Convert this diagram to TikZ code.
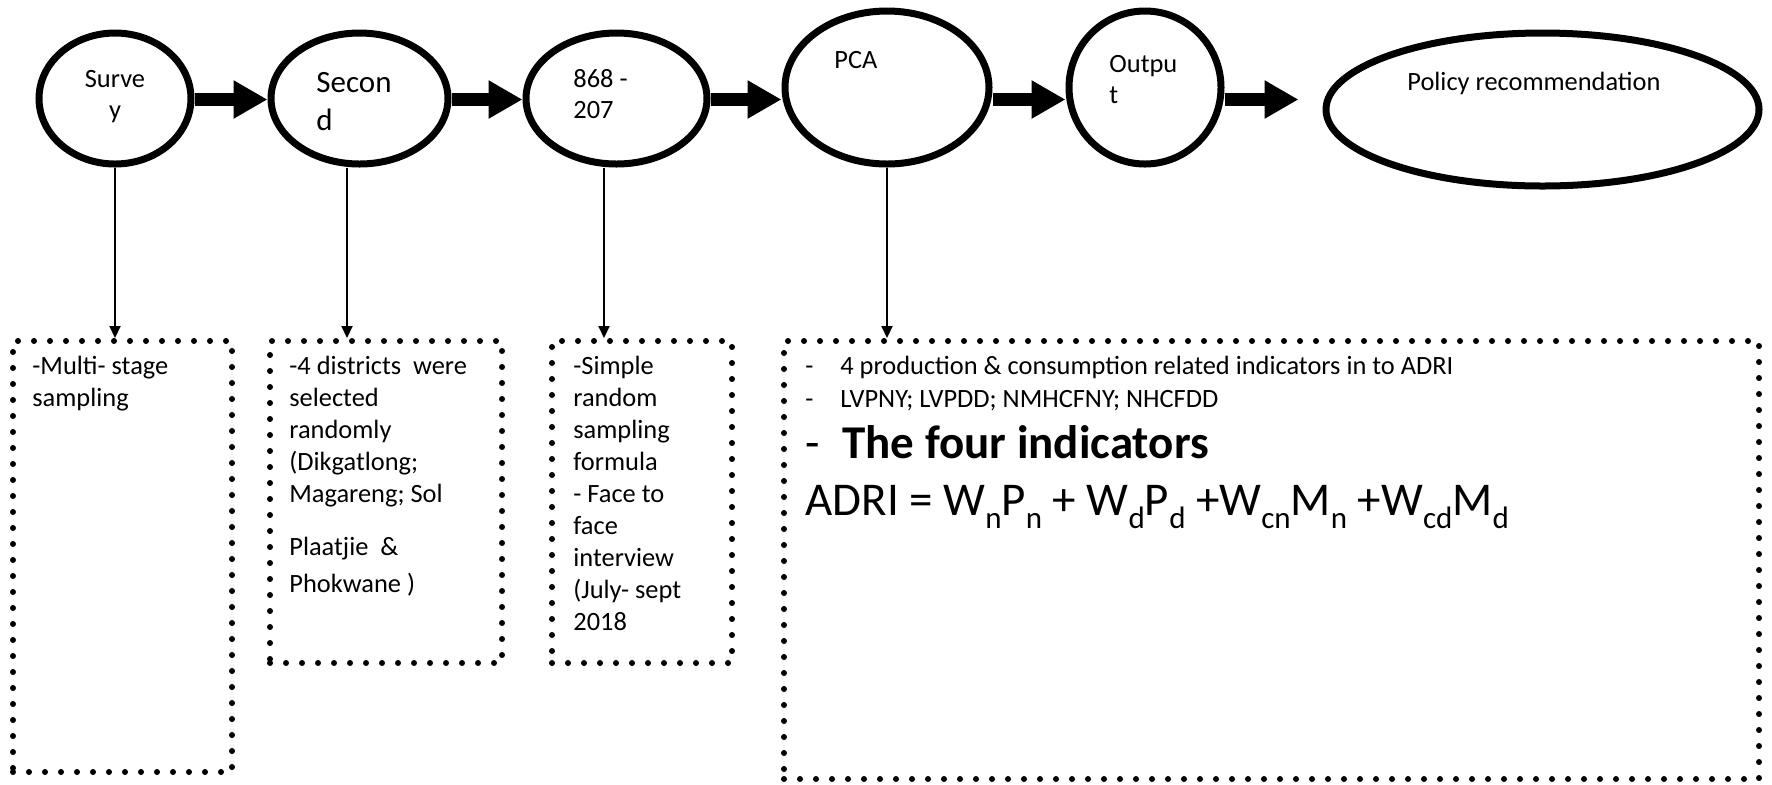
\documentclass[tikz,border=0pt]{standalone}
\usepackage{fontspec}
\setmainfont{Carlito}
\usetikzlibrary{shapes.geometric,arrows.meta}
\newcommand\sbs[1]{\raisebox{-6.5pt}{\fontsize{15.5}{15.5}\selectfont #1}}
\begin{document}
\begin{tikzpicture}[x=0.5pt,y=-0.5pt,
  stage/.style={draw, ellipse, line width=3.5pt, inner sep=0pt},
  flowarrow/.style={line width=6.5pt, -{Triangle[length=17pt,width=18pt]}},
  downarrow/.style={line width=1pt, -{Triangle[length=6pt,width=5.5pt]}},
  dotbox/.style={draw, rectangle, line width=3pt, dash pattern=on 0pt off 8pt, line cap=round, inner sep=0pt},
  txt/.style={inner sep=0pt, anchor=base west, align=left, font=\fontsize{13.2}{16}\selectfont},
]
\useasboundingbox (0,0) rectangle (1772,784);

% stages
\node[stage, minimum width=76pt, minimum height=65.5pt] (survey) at (115,98.5) {};
\node[stage, minimum width=88.5pt, minimum height=65.5pt] (second) at (359.5,98.5) {};
\node[stage, minimum width=90.5pt, minimum height=65.5pt] (sample) at (616.5,98.5) {};
\node[stage, minimum width=102pt, minimum height=76.5pt] (pca) at (887,87.5) {};
\node[stage, minimum width=76pt, minimum height=76.5pt] (output) at (1145,87.5) {};
\node[stage, minimum width=216.5pt, minimum height=76.5pt] (policy) at (1542.5,109.5) {};

% stage texts (multi-line nodes are placed by the baseline of their last line)
\node[txt, align=center, anchor=base, font=\fontsize{13.2}{15.5}\selectfont] (surveyT) at (115,118) {Surve\\y};
\node[txt, font=\fontsize{15.5}{19}\selectfont] (secondT) at (316,130) {Secon\\d};
\node[txt, font=\fontsize{13.2}{15.5}\selectfont] (sampleT) at (573,118) {868 -\\207};
\node[txt] (pcaT) at (834,68) {PCA};
\node[txt, font=\fontsize{13.2}{15.5}\selectfont] (outputT) at (1109,103) {Outpu\\t};
\node[txt] (policyT) at (1407,90) {Policy recommendation};

% boxes
\node[dotbox, minimum width=109.5pt, minimum height=215.5pt] (box1) at (122.5,556.5) {};
\node[dotbox, minimum width=116pt, minimum height=161pt] (box2) at (386,502) {};
\node[dotbox, minimum width=90pt, minimum height=161pt] (box3) at (642,502) {};
\node[dotbox, minimum width=487.5pt, minimum height=219pt] (box4) at (1271.5,560) {};

% box texts
\node[txt, font=\fontsize{13.2}{15.6}\selectfont] (box1T) at (32,406) {-Multi- stage\\sampling};
\node[txt, font=\fontsize{13.2}{15.9}\selectfont] (box2T) at (289,592) {-4 districts\ \ were\\selected\\randomly\\(Dikgatlong;\\Magareng; Sol\\[10.6pt]Plaatjie\ \ \&\\[2.6pt]Phokwane )};
\node[txt, font=\fontsize{13.2}{15.95}\selectfont] (box3T) at (573,630) {-Simple\\random\\sampling\\formula\\- Face to\\face\\interview\\(July- sept\\2018};
\node[txt] (b4a) at (805,374) {\makebox[17.5pt][l]{-}4 production \& consumption related indicators in to ADRI};
\node[txt] (b4b) at (805,407) {\makebox[17.5pt][l]{-}LVPNY; LVPDD; NMHCFNY; NHCFDD};
\node[txt, font=\fontsize{23.5}{28}\selectfont] (b4c) at (805,458) {\makebox[18.5pt][l]{-}\textbf{The four indicators}};
\node[txt, font=\fontsize{23.5}{28}\selectfont] (formula) at (805,515) {ADRI = W\sbs{n}P\sbs{n} + W\sbs{d}P\sbs{d} +W\sbs{cn}M\sbs{n} +W\sbs{cd}M\sbs{d}};

% flow arrows
\coordinate (flow) at (0,99.5);
\draw[flowarrow] (survey.east |- flow) -- (second.west |- flow);
\draw[flowarrow] (second.east |- flow) -- (sample.west |- flow);
\draw[flowarrow] (sample.east |- flow) -- (pca.west |- flow);
\draw[flowarrow] (pca.east |- flow) -- (output.west |- flow);
\draw[flowarrow] (output.east |- flow) -- ([xshift=-12pt]policy.west |- flow);

% down arrows
\draw[downarrow] (survey.south) -- (survey.south |- box1.north);
\draw[downarrow] ([xshift=-6.25pt]second.south) -- ([xshift=-6.25pt]second.south |- box2.north);
\draw[downarrow] ([xshift=-6.25pt]sample.south) -- ([xshift=-6.25pt]sample.south |- box3.north);
\draw[downarrow] (pca.south) -- (pca.south |- box4.north);
\end{tikzpicture}
\end{document}
